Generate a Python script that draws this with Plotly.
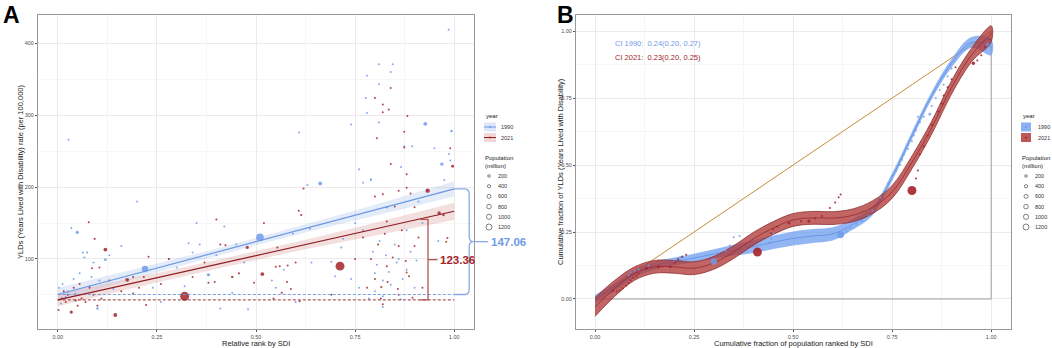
import plotly.graph_objects as go

W, H = 1052, 348
FONT = "Liberation Sans"
BLUE = "#6F9BEA"
RED = "#A3242A"

# ---------------- Panel A data (Relative rank by SDI vs YLD rate) ----------------
a90_x = [0.003, 0.008, 0.012, 0.02, 0.025, 0.027, 0.034, 0.04, 0.045, 0.049, 0.055, 0.063, 0.067, 0.074, 0.08,
         0.085, 0.09, 0.10, 0.105, 0.12, 0.13, 0.14, 0.16, 0.20, 0.22, 0.24, 0.26, 0.28, 0.30, 0.32, 0.33, 0.34,
         0.35, 0.358, 0.38, 0.40, 0.41, 0.42, 0.44, 0.45, 0.47, 0.48, 0.51, 0.54, 0.55, 0.57, 0.593, 0.60, 0.609,
         0.63, 0.636, 0.64, 0.662, 0.69, 0.70, 0.715, 0.72, 0.74, 0.74, 0.76, 0.76, 0.77, 0.77, 0.777, 0.78, 0.78,
         0.79, 0.79, 0.80, 0.81, 0.81, 0.81, 0.82, 0.82, 0.83, 0.84, 0.845, 0.85, 0.86, 0.866, 0.874, 0.88, 0.88,
         0.894, 0.90, 0.91, 0.92, 0.927, 0.95, 0.96, 0.969, 0.975, 0.986, 0.987, 0.99, 0.993,
         0.785, 0.795, 0.80, 0.805, 0.812, 0.82, 0.828, 0.835, 0.84, 0.855, 0.865, 0.87, 0.89, 0.905, 0.75]
a90_y = [60, 38, 65, 47, 55, 266, 143, 72, 52, 137, 80, 109, 102, 109, 62,
         75, 95, 31, 70, 99, 105, 58, 118, 180, 86, 60, 40, 100, 88, 62, 122, 109,
         150, 120, 78, 105, 31, 145, 53, 120, 95, 30, 130, 70, 60, 85, 135, 40, 276,
         203, 142, 95, 205, 96, 76, 116, 128, 72, 287, 225, 60, 206, 140, 324, 303, 355,
         211, 210, 80, 371, 343, 290, 33, 70, 172, 360, 371, 120, 100, 228, 257, 140, 85,
         257, 60, 180, 150, 288, 254, 125, 232, 210, 419, 246, 237, 278,
         45, 110, 55, 92, 125, 48, 105, 82, 64, 95, 44, 72, 110, 98, 150]
a90_pop = [20, 30, 15, 25, 40, 10, 30, 20, 60, 180, 15, 20, 15, 20, 30,
           10, 10, 100, 25, 120, 10, 15, 10, 10, 700, 15, 10, 10, 25, 30, 10, 40,
           10, 60, 180, 15, 25, 10, 30, 25, 15, 10, 1000, 25, 10, 15, 40, 10, 10,
           60, 30, 25, 250, 60, 50, 15, 15, 30, 10, 25, 10, 25, 10, 10, 15, 25,
           25, 10, 10, 10, 15, 10, 10, 10, 120, 15, 10, 10, 10, 60, 25, 10, 10,
           40, 10, 10, 10, 250, 25, 30, 200, 15, 10, 30, 25, 120,
           10, 10, 10, 10, 10, 10, 10, 10, 10, 10, 10, 10, 10, 10, 10]

a21_x = [0.002, 0.01, 0.015, 0.02, 0.025, 0.034, 0.04, 0.045, 0.05, 0.055, 0.06, 0.07, 0.078, 0.08, 0.086,
         0.09, 0.093, 0.10, 0.105, 0.11, 0.12, 0.13, 0.145, 0.16, 0.175, 0.19, 0.19, 0.205, 0.217, 0.223, 0.229,
         0.26, 0.28, 0.32, 0.34, 0.37, 0.38, 0.396, 0.40, 0.41, 0.423, 0.44, 0.457, 0.478, 0.495, 0.516, 0.52,
         0.544, 0.55, 0.554, 0.56, 0.565, 0.578, 0.58, 0.588, 0.60, 0.608, 0.61, 0.614, 0.62, 0.69, 0.712, 0.75,
         0.77, 0.78, 0.80, 0.80, 0.805, 0.816, 0.82, 0.82, 0.82, 0.82, 0.83, 0.83, 0.835, 0.84, 0.84, 0.85, 0.86,
         0.86, 0.86, 0.874, 0.874, 0.88, 0.88, 0.88, 0.882, 0.886, 0.89, 0.90, 0.90, 0.92, 0.933, 0.962, 0.973,
         0.98, 0.983, 0.99, 0.996,
         0.79, 0.80, 0.808, 0.815, 0.825, 0.832, 0.845, 0.858, 0.868, 0.878, 0.895, 0.91]
a21_y = [29, 45, 55, 40, 50, 26, 60, 42, 35, 65, 45, 40, 151, 60, 87,
         50, 128, 35, 88, 45, 113, 70, 22, 55, 71, 52, 75, 60, 75, 36, 103,
         65, 100, 48, 75, 95, 67, 68, 155, 120, 119, 75, 80, 116, 67, 79, 150,
         45, 89, 116, 90, 53, 68, 91, 58, 95, 167, 41, 161, 198, 50, 90, 100,
         130, 60, 187, 324, 268, 61, 315, 304, 37, 190, 152, 90, 308, 338, 232, 173, 195,
         118, 50, 277, 255, 199, 218, 81, 299, 76, 191, 172, 118, 60, 195, 164, 161,
         124, 129, 254, 229,
         100, 72, 120, 45, 135, 68, 102, 58, 140, 97, 46, 130]
a21_pop = [40, 60, 30, 60, 30, 180, 30, 60, 30, 40, 80, 40, 50, 30, 60,
           30, 80, 40, 50, 30, 250, 30, 250, 30, 250, 60, 40, 60, 60, 40, 40,
           30, 15, 1420, 30, 40, 60, 40, 40, 40, 80, 100, 80, 180, 60, 250, 30,
           60, 40, 40, 40, 80, 40, 50, 60, 50, 40, 30, 80, 40, 15, 1400, 15,
           15, 15, 50, 40, 30, 80, 40, 30, 30, 40, 40, 15, 40, 40, 50, 60, 50,
           30, 15, 30, 40, 60, 50, 60, 40, 40, 50, 50, 40, 15, 330, 200, 100,
           60, 60, 40, 150,
           10, 10, 10, 10, 10, 10, 10, 10, 10, 10, 10, 10]

# Linear fits (intercept, slope)
fit_intercept = [50.5, 43.0]
fit_slope = [147.06, 123.36]
band_x = [0, 0.125, 0.25, 0.375, 0.5, 0.625, 0.75, 0.875, 1.0]
band_hw_1990 = [9, 7.5, 6, 5.2, 5, 5.5, 6.5, 8.5, 10.5]
band_hw_2021 = [9, 7.5, 6.5, 6, 6, 6.5, 8, 10, 12]
gap_labels = ["147.06", "123.36"]

# ---------------- Panel B data (concentration curves) ----------------
curve_x = [0, 0.05, 0.1, 0.15, 0.2, 0.25, 0.3, 0.35, 0.4, 0.45, 0.5, 0.55, 0.6, 0.65, 0.7,
           0.75, 0.8, 0.85, 0.9, 0.95, 1.0]
curve_1990 = [0.0, 0.045, 0.095, 0.125, 0.14, 0.153, 0.168, 0.182, 0.196, 0.212, 0.226, 0.235, 0.243, 0.278,
              0.328, 0.455, 0.61, 0.76, 0.88, 0.958, 0.94]
curve_hw_1990 = [0.015, 0.015, 0.015, 0.015, 0.015, 0.016, 0.018, 0.02, 0.024, 0.025, 0.026, 0.026, 0.025, 0.02,
                 0.016, 0.014, 0.014, 0.014, 0.016, 0.02, 0.03]
curve_2021 = [-0.03, 0.04, 0.095, 0.12, 0.12, 0.115, 0.135, 0.175, 0.225, 0.265, 0.295, 0.303, 0.302, 0.312,
              0.342, 0.40, 0.51, 0.64, 0.79, 0.91, 0.99]
curve_hw_2021 = [0.035, 0.03, 0.025, 0.024, 0.024, 0.024, 0.024, 0.024, 0.024, 0.024, 0.024, 0.024, 0.024, 0.024,
                 0.024, 0.024, 0.024, 0.024, 0.025, 0.025, 0.03]

b90_x = [0.085, 0.09, 0.10, 0.11, 0.135, 0.20, 0.205, 0.21, 0.215, 0.22, 0.30, 0.33, 0.34, 0.35, 0.365, 0.44,
         0.445, 0.45, 0.62, 0.635, 0.645, 0.66, 0.675, 0.69, 0.70, 0.72, 0.73, 0.74, 0.75, 0.76, 0.77, 0.775,
         0.78, 0.79, 0.80, 0.805, 0.81, 0.815, 0.82, 0.83, 0.845, 0.85, 0.86, 0.87, 0.88, 0.89, 0.90, 0.99, 0.995]
b90_y = [0.09, 0.10, 0.105, 0.11, 0.125, 0.14, 0.145, 0.15, 0.155, 0.16, 0.14, 0.18, 0.20, 0.23, 0.235, 0.21,
         0.225, 0.245, 0.24, 0.255, 0.265, 0.28, 0.29, 0.31, 0.33, 0.38, 0.40, 0.43, 0.46, 0.48, 0.50, 0.52,
         0.54, 0.56, 0.59, 0.61, 0.63, 0.68, 0.66, 0.68, 0.69, 0.72, 0.75, 0.78, 0.80, 0.83, 0.86, 0.95, 0.97]
b90_pop = [20, 20, 20, 20, 20, 15, 15, 15, 15, 15, 700, 20, 15, 15, 15, 15,
           15, 20, 850, 20, 15, 15, 20, 15, 15, 15, 15, 15, 20, 15, 15, 15,
           15, 15, 15, 15, 15, 15, 15, 15, 120, 15, 20, 15, 20, 15, 15, 150, 30]

b21_x = [0.045, 0.055, 0.062, 0.07, 0.078, 0.085, 0.09, 0.097, 0.105, 0.11, 0.13, 0.16, 0.19, 0.20, 0.205,
         0.21, 0.22, 0.23, 0.41, 0.445, 0.45, 0.46, 0.49, 0.52, 0.54, 0.555, 0.573, 0.593, 0.606, 0.615, 0.62,
         0.80, 0.81, 0.815, 0.82, 0.83, 0.84, 0.85, 0.866, 0.875, 0.88, 0.89, 0.90, 0.91, 0.955, 0.965, 0.975,
         0.985, 0.995]
b21_y = [0.03, 0.028, 0.033, 0.04, 0.05, 0.06, 0.07, 0.078, 0.085, 0.095, 0.115, 0.12, 0.12, 0.135, 0.14,
         0.148, 0.157, 0.165, 0.175, 0.245, 0.26, 0.27, 0.283, 0.29, 0.29, 0.30, 0.31, 0.34, 0.36, 0.38, 0.39,
         0.405, 0.45, 0.48, 0.54, 0.57, 0.61, 0.65, 0.70, 0.73, 0.76, 0.79, 0.82, 0.865, 0.88, 0.89, 0.91,
         0.94, 0.97]
b21_pop = [60, 30, 30, 30, 40, 40, 50, 50, 50, 40, 150, 150, 150, 30, 30,
           30, 40, 40, 1420, 30, 40, 50, 120, 60, 150, 40, 50, 60, 50, 40, 40,
           1400, 40, 40, 40, 40, 50, 50, 50, 40, 50, 40, 50, 50, 200, 40, 40, 50, 60]

ci_texts = ["CI 1990:  0.24(0.20, 0.27)", "CI 2021:  0.23(0.20, 0.25)"]
legend_years = ["1990", "2021"]
legend_pops = [200, 400, 600, 800, 1000, 1200]

# ---------------- layout geometry ----------------
def px2x(px):
    return px / W

def py2y(py):
    return 1 - py / H

domA_x = [px2x(38), px2x(474)]
domB_x = [px2x(576), px2x(1011)]
dom_y = [py2y(329), py2y(15)]
rangeA_x = [-0.05, 1.05]
rangeA_y = [2.5, 439.5]
rangeB_x = [-0.048, 1.05]
rangeB_y = [-0.112, 1.06]

def a_paper_x(v):
    return domA_x[0] + (v - rangeA_x[0]) / (rangeA_x[1] - rangeA_x[0]) * (domA_x[1] - domA_x[0])

MAXD = 9
SIZEREF = 2 * 1420 / MAXD ** 2
SIZEMIN = 1.0
fig = go.Figure()

# Panel A bands
for k, (hw, fc) in enumerate([(band_hw_1990, "rgba(120,160,230,0.20)"), (band_hw_2021, "rgba(205,110,110,0.22)")]):
    b = fit_intercept[k]
    m = fit_slope[k]
    up = [b + m * x + h for x, h in zip(band_x, hw)]
    lo = [b + m * x - h for x, h in zip(band_x, hw)]
    fig.add_trace(go.Scatter(x=band_x + band_x[::-1], y=up + lo[::-1], fill="toself", fillcolor=fc,
                             line=dict(width=0), mode="lines", hoverinfo="skip", showlegend=False,
                             xaxis="x", yaxis="y"))

# Panel A scatter
fig.add_trace(go.Scatter(x=a90_x, y=a90_y, mode="markers", showlegend=False, xaxis="x", yaxis="y",
                         marker=dict(color=BLUE, size=a90_pop, sizemode="area", sizeref=SIZEREF, sizemin=SIZEMIN,
                                     opacity=0.85, line=dict(width=0))))
fig.add_trace(go.Scatter(x=a21_x, y=a21_y, mode="markers", showlegend=False, xaxis="x", yaxis="y",
                         marker=dict(color=RED, size=a21_pop, sizemode="area", sizeref=SIZEREF, sizemin=SIZEMIN,
                                     opacity=0.85, line=dict(width=0))))

# Panel A fit lines and dashed baselines
for k, col in enumerate(["#6A98E2", "#8E1C22"]):
    b = fit_intercept[k]
    m = fit_slope[k]
    fig.add_trace(go.Scatter(x=[0, 1], y=[b, b + m], mode="lines", line=dict(color=col, width=1.2),
                             showlegend=False, xaxis="x", yaxis="y", hoverinfo="skip"))
    fig.add_trace(go.Scatter(x=[0, 1], y=[b, b], mode="lines", line=dict(color=col, width=0.9, dash="3px,2px"),
                             showlegend=False, xaxis="x", yaxis="y", hoverinfo="skip"))

# Panel B reference lines
fig.add_trace(go.Scatter(x=[0, 1], y=[0, 1], mode="lines", line=dict(color="#C88A3A", width=1),
                         showlegend=False, xaxis="x2", yaxis="y2", hoverinfo="skip"))
fig.add_trace(go.Scatter(x=[0, 1, 1], y=[0, 0, 1], mode="lines", line=dict(color="#A0A0A0", width=1),
                         showlegend=False, xaxis="x2", yaxis="y2", hoverinfo="skip"))

# Panel B bands
for cy, hw, fc, lc, cl in [(curve_1990, curve_hw_1990, "rgba(110,158,240,0.75)", "rgba(0,0,0,0)", "#5F8FE0"),
                           (curve_2021, curve_hw_2021, "rgba(176,58,58,0.78)", "rgba(135,30,30,0.85)", "#952A2A")]:
    up = [c + h for c, h in zip(cy, hw)]
    lo = [c - h for c, h in zip(cy, hw)]
    fig.add_trace(go.Scatter(x=curve_x + curve_x[::-1], y=up + lo[::-1], fill="toself", fillcolor=fc,
                             line=dict(width=0.8, color=lc, shape="spline"), mode="lines", hoverinfo="skip",
                             showlegend=False, xaxis="x2", yaxis="y2"))
    fig.add_trace(go.Scatter(x=curve_x, y=cy, mode="lines", line=dict(color=cl, width=0.8, shape="spline"),
                             showlegend=False, xaxis="x2", yaxis="y2", hoverinfo="skip"))

fig.add_trace(go.Scatter(x=b90_x, y=b90_y, mode="markers", showlegend=False, xaxis="x2", yaxis="y2",
                         marker=dict(color=BLUE, size=b90_pop, sizemode="area", sizeref=SIZEREF, sizemin=SIZEMIN,
                                     opacity=0.85, line=dict(width=0))))
fig.add_trace(go.Scatter(x=b21_x, y=b21_y, mode="markers", showlegend=False, xaxis="x2", yaxis="y2",
                         marker=dict(color=RED, size=b21_pop, sizemode="area", sizeref=SIZEREF, sizemin=SIZEMIN,
                                     opacity=0.9, line=dict(width=0))))

shapes = []
annotations = []

# Blue curly brace (panel A)
top = fit_intercept[0] + fit_slope[0]
bot = fit_intercept[0]
mid = (top + bot) / 2
x0 = a_paper_x(1.0)
xb = x0 + px2x(15)
xc = x0 + px2x(11)
xr = x0 + px2x(19)
c = 8
path = (f"M {x0},{top} L {xc},{top} Q {xb},{top} {xb},{top - c} L {xb},{mid + c} Q {xb},{mid} {xr},{mid} "
        f"Q {xb},{mid} {xb},{mid - c} L {xb},{bot + c} Q {xb},{bot} {xc},{bot} L {x0},{bot}")
shapes.append(dict(type="path", xref="paper", yref="y", path=path, line=dict(color="#86A9E6", width=1.3)))
shapes.append(dict(type="line", xref="paper", yref="y", x0=xr, x1=x0 + px2x(34), y0=mid, y1=mid,
                   line=dict(color="#86A9E6", width=1.3)))
annotations.append(dict(text=f"<b>{gap_labels[0]}</b>", xref="paper", yref="y", x=x0 + px2x(35), y=mid,
                        xanchor="left", yanchor="middle", showarrow=False,
                        font=dict(family=FONT, size=11.5, color="#6F9BEA")))

# Red bracket (panel A)
bx = 0.934
rtop = 155
rbot = fit_intercept[1]
rmid = (rtop + rbot) / 2
shapes.append(dict(type="path", xref="x", yref="y",
                   path=f"M 0.914,{rtop} L {bx},{rtop} L {bx},{rbot} L 0.914,{rbot}",
                   line=dict(color="#B05555", width=1.3)))
shapes.append(dict(type="line", xref="x", yref="y", x0=bx, x1=0.958, y0=rmid, y1=rmid,
                   line=dict(color="#B05555", width=1.3)))
annotations.append(dict(text=f"<b>{gap_labels[1]}</b>", xref="x", yref="y", x=0.959, y=rmid,
                        xanchor="left", yanchor="middle", showarrow=False,
                        font=dict(family=FONT, size=11.5, color="#A3242A")))

# CI texts (panel B)
for i, (t, col) in enumerate(zip(ci_texts, ["#6F9BEA", "#A3242A"])):
    annotations.append(dict(text=t, xref="paper", yref="paper", x=px2x(613), y=py2y(44 + 14 * i),
                            xanchor="left", yanchor="middle", showarrow=False,
                            font=dict(family=FONT, size=7.5, color=col)))

# Panel letters
annotations.append(dict(text="<b>A</b>", xref="paper", yref="paper", x=px2x(1), y=py2y(15), xanchor="left",
                        yanchor="middle", showarrow=False, font=dict(family=FONT, size=23, color="black")))
annotations.append(dict(text="<b>B</b>", xref="paper", yref="paper", x=px2x(555), y=py2y(15), xanchor="left",
                        yanchor="middle", showarrow=False, font=dict(family=FONT, size=23, color="black")))

# Axis titles
tf = dict(family=FONT, size=7.5, color="#1a1a1a")
annotations += [
    dict(text="Relative rank by SDI", xref="paper", yref="paper", x=px2x(256), y=py2y(343), showarrow=False,
         xanchor="center", yanchor="middle", font=tf),
    dict(text="YLDs (Years Lived with Disability) rate (per 100,000)", xref="paper", yref="paper", x=px2x(21),
         y=py2y(172), textangle=-90, showarrow=False, xanchor="center", yanchor="middle", font=tf),
    dict(text="Cumulative fraction of population ranked by SDI", xref="paper", yref="paper", x=px2x(793),
         y=py2y(343), showarrow=False, xanchor="center", yanchor="middle", font=tf),
    dict(text="Cumulative fraction of YLDs (Years Lived with Disability)", xref="paper", yref="paper",
         x=px2x(561), y=py2y(172), textangle=-90, showarrow=False, xanchor="center", yanchor="middle", font=tf),
]

# Legends (drawn in pixel positions)
lf = dict(family=FONT, size=6, color="#1a1a1a")
lfs = dict(family=FONT, size=5.5, color="#333333")
radii = [1.3, 1.6, 2.0, 2.3, 2.6, 3.0]
for lx, kind in [(484, "A"), (1021, "B")]:
    annotations.append(dict(text="year", xref="paper", yref="paper", x=px2x(lx), y=py2y(116), xanchor="left",
                            yanchor="middle", showarrow=False, font=lf))
    for i, (yr, col) in enumerate(zip(legend_years, [BLUE, RED])):
        cy = 127 + 10.5 * i
        if kind == "A":
            fill = "rgba(120,160,230,0.25)" if i == 0 else "rgba(205,110,110,0.28)"
            lcol = "#6A98E2" if i == 0 else "#8E1C22"
            shapes.append(dict(type="rect", xref="paper", yref="paper", x0=px2x(lx), x1=px2x(lx + 12),
                               y0=py2y(cy + 4.5), y1=py2y(cy - 4.5), line=dict(width=0), fillcolor=fill))
            shapes.append(dict(type="line", xref="paper", yref="paper", x0=px2x(lx), x1=px2x(lx + 12),
                               y0=py2y(cy), y1=py2y(cy), line=dict(color=lcol, width=1)))
        else:
            fill = "rgba(110,158,240,0.8)" if i == 0 else "rgba(176,58,58,0.85)"
            shapes.append(dict(type="rect", xref="paper", yref="paper", x0=px2x(lx), x1=px2x(lx + 10),
                               y0=py2y(cy + 4.5), y1=py2y(cy - 4.5), line=dict(width=0), fillcolor=fill))
        shapes.append(dict(type="circle", xref="paper", yref="paper", xsizemode="pixel", ysizemode="pixel",
                           xanchor=px2x(lx + (6 if kind == "A" else 5)), yanchor=py2y(cy), x0=-1, x1=1,
                           y0=-1, y1=1, fillcolor=col, line=dict(width=0)))
        annotations.append(dict(text=yr, xref="paper", yref="paper", x=px2x(lx + 15), y=py2y(cy),
                                xanchor="left", yanchor="middle", showarrow=False, font=lfs))
    annotations.append(dict(text="Population<br>(million)", xref="paper", yref="paper", x=px2x(lx - 1),
                            y=py2y(161.5), xanchor="left", yanchor="middle", showarrow=False, font=lf,
                            align="left"))
    for i, (p, r) in enumerate(zip(legend_pops, radii)):
        cy = 176 + 10.2 * i
        cx = lx + 5
        shapes.append(dict(type="circle", xref="paper", yref="paper", xsizemode="pixel", ysizemode="pixel",
                           xanchor=px2x(cx), yanchor=py2y(cy), x0=-r, x1=r, y0=-r, y1=r,
                           line=dict(color="#333333", width=0.6)))
        annotations.append(dict(text=str(p), xref="paper", yref="paper", x=px2x(lx + 12), y=py2y(cy),
                                xanchor="left", yanchor="middle", showarrow=False, font=lfs))

tickfont = dict(family=FONT, size=5.5, color="#4d4d4d")
axis_common = dict(showline=True, mirror=True, linecolor="#999999", linewidth=1, zeroline=False,
                   ticks="outside", ticklen=2, tickwidth=0.6, tickcolor="#555555", tickfont=tickfont,
                   showgrid=True, gridcolor="#EBEBEB", gridwidth=0.8)

fig.update_layout(
    width=W, height=H, margin=dict(l=0, r=0, t=0, b=0),
    paper_bgcolor="white", plot_bgcolor="white", showlegend=False,
    xaxis=dict(domain=domA_x, range=rangeA_x, anchor="y", tickvals=[0, 0.25, 0.5, 0.75, 1.0],
               ticktext=["0.00", "0.25", "0.50", "0.75", "1.00"],
               minor=dict(tickvals=[0.125, 0.375, 0.625, 0.875], showgrid=True, gridcolor="#F6F6F6", ticks=""),
               **axis_common),
    yaxis=dict(domain=dom_y, range=rangeA_y, anchor="x", tickvals=[100, 200, 300, 400],
               minor=dict(tickvals=[50, 150, 250, 350], showgrid=True, gridcolor="#F6F6F6", ticks=""),
               **axis_common),
    xaxis2=dict(domain=domB_x, range=rangeB_x, anchor="y2", tickvals=[0, 0.25, 0.5, 0.75, 1.0],
                ticktext=["0.00", "0.25", "0.50", "0.75", "1.00"],
                minor=dict(tickvals=[0.125, 0.375, 0.625, 0.875], showgrid=True, gridcolor="#F6F6F6", ticks=""),
                **axis_common),
    yaxis2=dict(domain=dom_y, range=rangeB_y, anchor="x2", tickvals=[0, 0.25, 0.5, 0.75, 1.0],
                ticktext=["0.00", "0.25", "0.50", "0.75", "1.00"],
                minor=dict(tickvals=[-0.125, 0.125, 0.375, 0.625, 0.875], showgrid=True, gridcolor="#F6F6F6",
                           ticks=""),
                **axis_common),
    shapes=shapes, annotations=annotations,
)

fig.write_html("out.html", config={"displayModeBar": False},
               post_script="document.body.style.margin='0';document.body.style.overflow='hidden';")
